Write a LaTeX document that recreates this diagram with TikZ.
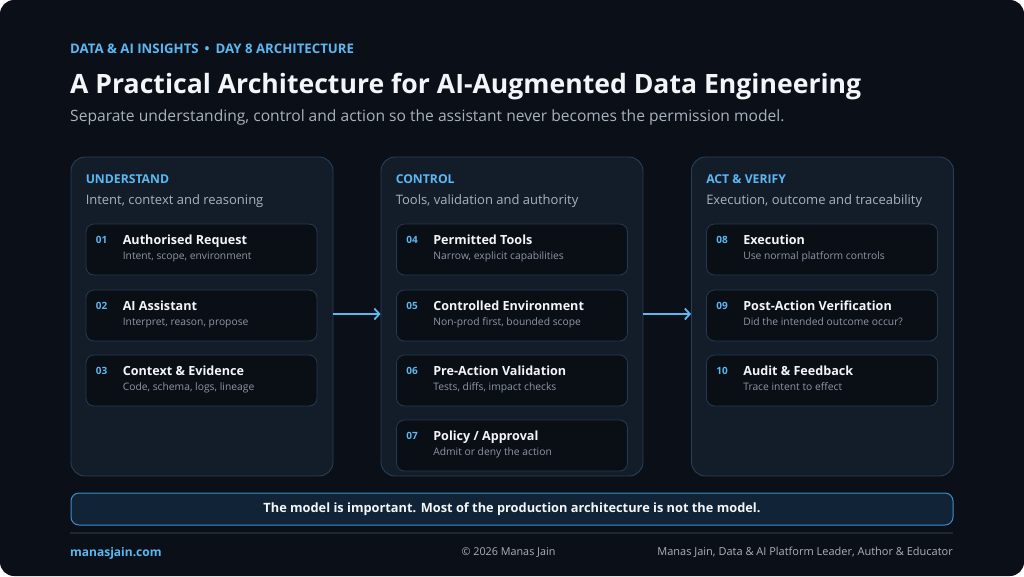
\documentclass[tikz,border=0pt]{standalone}
\usepackage{fontspec}
\setmainfont{Open Sans}
\usetikzlibrary{positioning, calc, arrows.meta}

\definecolor{pagebg}{HTML}{0B0F17}
\definecolor{panelfill}{HTML}{131C29}
\definecolor{panelline}{HTML}{27405A}
\definecolor{cardfill}{HTML}{0A0E15}
\definecolor{cardline}{HTML}{253A52}
\definecolor{accent}{HTML}{5BB8F2}
\definecolor{softwhite}{HTML}{F3F5F8}
\definecolor{mutetext}{HTML}{A9B2BF}
\definecolor{notetext}{HTML}{8E98A6}
\definecolor{bannerfill}{HTML}{112336}
\definecolor{bannerline}{HTML}{3C8FCB}
\definecolor{ruleline}{HTML}{1C2736}

\newcommand{\fsz}[1]{\fontsize{#1}{#1}\selectfont}

\tikzset{
  panelbox/.style={draw=panelline, fill=panelfill, line width=0.9pt,
    rounded corners=14pt, minimum width=262pt, minimum height=319pt, inner sep=0pt},
  cardbox/.style={draw=cardline, fill=cardfill, line width=0.8pt,
    rounded corners=8pt, minimum width=231pt, minimum height=51pt, inner sep=0pt},
  kicker/.style={font=\fsz{12.2}\bfseries, text=accent, anchor=base west, inner sep=0pt},
  panelnote/.style={font=\fsz{13}, text=mutetext, anchor=base west, inner sep=0pt},
  numtext/.style={font=\fsz{10}\bfseries, text=accent, anchor=base west, inner sep=0pt},
  cardtitle/.style={font=\fsz{12.6}\bfseries, text=softwhite, anchor=base west, inner sep=0pt},
  cardnote/.style={font=\fsz{10.3}, text=notetext, anchor=base west, inner sep=0pt},
  flow/.style={draw=accent, line width=1.8pt, -{Straight Barb[length=5pt, width=11pt]}}
}

% one numbered step: name, centre, number, title, note
\newcommand{\stepcard}[5]{%
  \node[cardbox] (#1) at (#2) {};
  \node[numtext] (#1-num) at ($(#1.north west)+(10,20)$) {#3};
  \node[cardtitle] (#1-title) at ($(#1.north west)+(37,21)$) {#4};
  \node[cardnote] (#1-note) at ($(#1.north west)+(37,36)$) {#5};
}

\begin{document}
\begin{tikzpicture}[x=1pt, y=-1pt]
  \fill[white] (0,0) rectangle (1024,576);
  \useasboundingbox (0,0) rectangle (1024,576);
  \fill[pagebg, rounded corners=14pt] (0,0) rectangle (1024,576);

  % header
  \node[kicker, font=\fsz{13.2}\bfseries] (kick) at (70,53) {DATA \& AI INSIGHTS\hspace{6pt}•\hspace{6pt}DAY 8 ARCHITECTURE};
  \node[font=\fsz{26.6}\bfseries, text=softwhite, anchor=base west, inner sep=0pt] (title) at (70,93)
    {A Practical Architecture for AI-Augmented Data Engineering};
  \node[font=\fsz{15.6}, text=mutetext, anchor=base west, inner sep=0pt] (subtitle) at (70,121.5)
    {Separate understanding, control and action so the assistant never becomes the permission model.};

  % three columns
  \node[panelbox] (und) at (202,316.5) {};
  \node[panelbox] (ctl) at (512,316.5) {};
  \node[panelbox] (act) at (822.5,316.5) {};

  \node[kicker] (und-head) at ($(und.north west)+(15,26.5)$) {UNDERSTAND};
  \node[panelnote] (und-note) at ($(und.north west)+(15,47.5)$) {Intent, context and reasoning};
  \node[kicker] (ctl-head) at ($(ctl.north west)+(15,26.5)$) {CONTROL};
  \node[panelnote] (ctl-note) at ($(ctl.north west)+(15,47.5)$) {Tools, validation and authority};
  \node[kicker] (act-head) at ($(act.north west)+(15,26.5)$) {ACT \& VERIFY};
  \node[panelnote] (act-note) at ($(act.north west)+(15,47.5)$) {Execution, outcome and traceability};

  \stepcard{s1}{201.5,249.5}{01}{Authorised Request}{Intent, scope, environment}
  \stepcard{s2}{201.5,315.5}{02}{AI Assistant}{Interpret, reason, propose}
  \stepcard{s3}{201.5,380.5}{03}{Context \& Evidence}{Code, schema, logs, lineage}

  \stepcard{s4}{512,249.5}{04}{Permitted Tools}{Narrow, explicit capabilities}
  \stepcard{s5}{512,315.5}{05}{Controlled Environment}{Non-prod first, bounded scope}
  \stepcard{s6}{512,380.5}{06}{Pre-Action Validation}{Tests, diffs, impact checks}
  \stepcard{s7}{512,445.5}{07}{Policy / Approval}{Admit or deny the action}

  \stepcard{s8}{822,249.5}{08}{Execution}{Use normal platform controls}
  \stepcard{s9}{822,315.5}{09}{Post-Action Verification}{Did the intended outcome occur?}
  \stepcard{s10}{822,380.5}{10}{Audit \& Feedback}{Trace intent to effect}

  \draw[flow] ([yshift=2.5pt]und.east) -- ([yshift=2.5pt]ctl.west);
  \draw[flow] ([yshift=2.5pt]ctl.east) -- ([yshift=2.5pt]act.west);

  % takeaway banner and footer
  \node[draw=bannerline, fill=bannerfill, line width=1pt, rounded corners=8pt,
    minimum width=882pt, minimum height=32pt, inner sep=0pt,
    font=\fsz{12.8}\bfseries, text=softwhite] (banner) at (512,509)
    {The model is important. Most of the production architecture is not the model.};
  \draw[ruleline, line width=1.2pt] (70,533) -- (953,533);

  \node[font=\fsz{12}\bfseries, text=accent, anchor=base west, inner sep=0pt] (site) at (70,556) {manasjain.com};
  \node[font=\fsz{10.8}, text=mutetext, anchor=base, inner sep=0pt] (copy) at (508.5,555.5) {© 2026 Manas Jain};
  \node[font=\fsz{11}, text=mutetext, anchor=base east, inner sep=0pt] (byline) at (953,555.5)
    {Manas Jain, Data \& AI Platform Leader, Author \& Educator};
\end{tikzpicture}
\end{document}
